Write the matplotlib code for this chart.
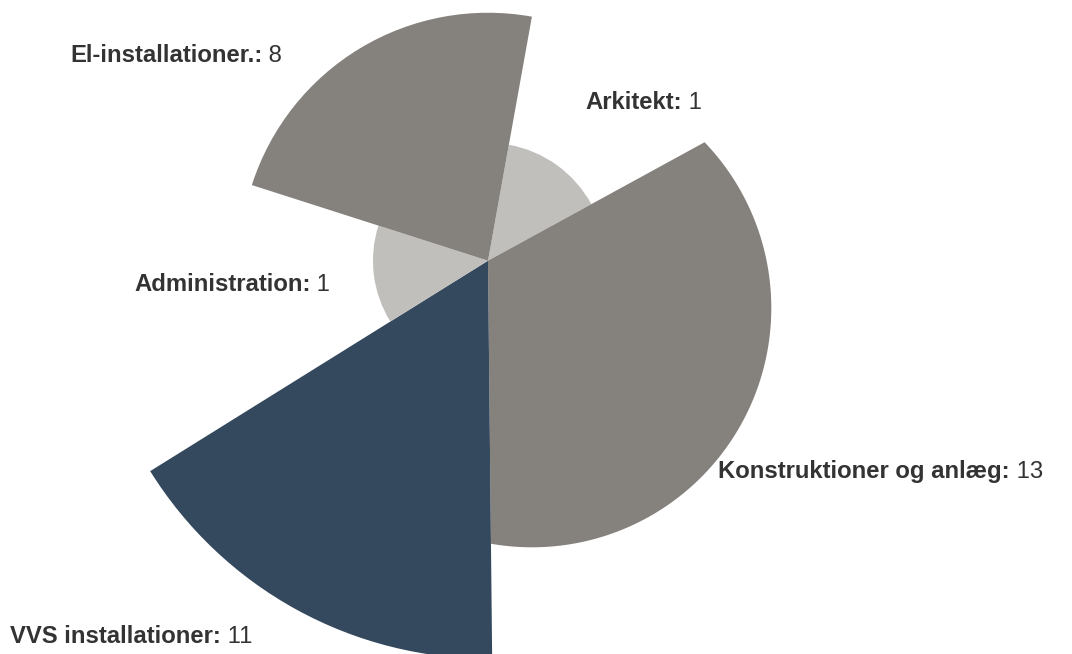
import numpy as np
import matplotlib
matplotlib.use("Agg")
import matplotlib.pyplot as plt
from matplotlib.patches import Wedge, Polygon

plt.rcParams['font.family'] = ['Liberation Sans', 'DejaVu Sans']

# slices, clockwise from the top
names = ["Arkitekt", "Konstruktioner og anlæg", "VVS installationer", "Administration", "El-installationer."]
values = [1, 13, 11, 1, 8]
share = [14.2, 32.8, 16.3, 13.8, 22.9]      # angle share in %
size = [29.6, 71.6, 100, 28.9, 62.3]        # radius, % of the largest
colors = ["#c0bfbb", "#85817d", "#34495e", "#c0bfbb", "#85817d"]

start = 10.2          # degrees clockwise from 12 o'clock
cx, cy = 488, 260.7   # pie centre
rmax = 398

# label anchors (left x, baseline y)
label_pos = [(585, 109), (718, 478), (10, 643), (134, 291), (70, 62)]

fig = plt.figure(figsize=(10.72, 6.54), dpi=100)
ax = fig.add_axes([0, 0, 1, 1])
ax.set_xlim(0, 1072)
ax.set_ylim(654, 0)
ax.set_aspect('equal')
ax.axis('off')

a = start
for i in range(len(names)):
    span = share[i] / 100 * 360
    r = size[i] / 100 * rmax
    if i == 1:
        # this slice's outer edge is bowed: circle with a shifted centre
        dx, dy, R = 44, 47.3, 239.3
        ang = np.radians(np.linspace(a, a + span, 200))
        ux, uy = np.sin(ang), -np.cos(ang)
        ud = ux * dx + uy * dy
        rr = ud + np.sqrt(ud**2 - (dx**2 + dy**2) + R**2)
        pts = np.column_stack([cx + rr * ux, cy + rr * uy])
        pts = np.vstack([[cx, cy], pts])
        ax.add_patch(Polygon(pts, closed=True, facecolor=colors[i], edgecolor='none'))
    else:
        ax.add_patch(Wedge((cx, cy), r, a - 90, a + span - 90,
                           facecolor=colors[i], edgecolor='none'))
    a += span

for i in range(len(names)):
    x, y = label_pos[i]
    t = ax.text(x, y, names[i] + ":", fontsize=17.2, fontweight='bold',
                color='#333333', va='baseline', ha='left')
    ax.annotate(" " + str(values[i]), xy=(1, 0), xycoords=t, fontsize=17.2,
                color='#333333', va='bottom', ha='left')

fig.savefig("out.png", dpi=100)
